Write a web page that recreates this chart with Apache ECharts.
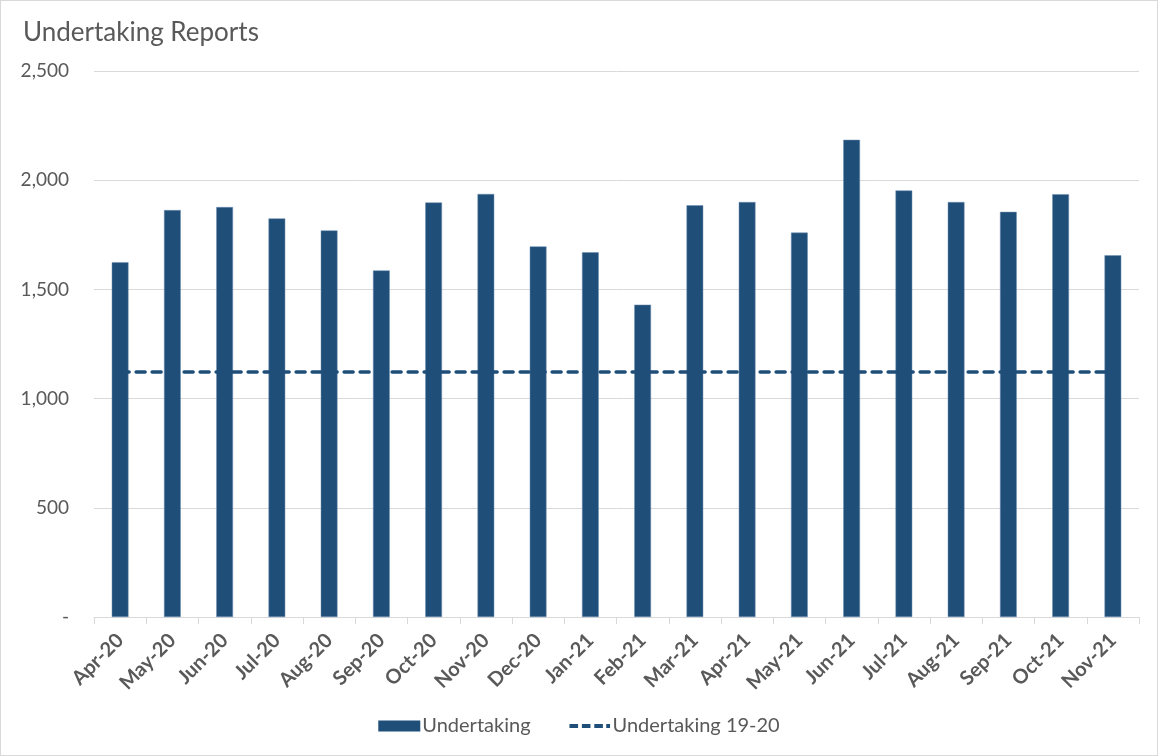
<!DOCTYPE html>
<html>
<head>
<meta charset="utf-8">
<title>Undertaking Reports</title>
<script src="https://cdn.jsdelivr.net/npm/echarts@6/dist/echarts.min.js"></script>
<style>
  html, body { margin: 0; padding: 0; background: #fff; }
  #chart { width: 1156px; height: 754px; border: 1px solid #d9d9d9; }
</style>
</head>
<body>
<div id="chart"></div>
<script>
// Monthly undertaking report counts
const months = ['Apr-20', 'May-20', 'Jun-20', 'Jul-20', 'Aug-20', 'Sep-20', 'Oct-20', 'Nov-20', 'Dec-20', 'Jan-21',
                'Feb-21', 'Mar-21', 'Apr-21', 'May-21', 'Jun-21', 'Jul-21', 'Aug-21', 'Sep-21', 'Oct-21', 'Nov-21'];
const undertaking = [1624, 1863, 1877, 1825, 1770, 1587, 1898, 1937, 1697, 1670,
                     1430, 1885, 1900, 1760, 2185, 1953, 1900, 1855, 1936, 1656];
// 2019-20 monthly average used as a reference line
const baseline1920 = 1122;
const baselineSeries = months.map(() => baseline1920);

const yTicks = { min: 0, max: 2500, interval: 500 };

const textColor = '#595959';
const barColor = '#1f4e79';
const font = 'Lato, "Open Sans", sans-serif';

// Dashed-line legend icon: three dashes and a dot, centred in a 44x11 box
const dashedIcon = 'path://M0,0L0.01,0Z M44,11L43.99,11Z ' +
  'M1,3.5h9v4h-9z M14,3.5h9v4h-9z M27,3.5h9v4h-9z M39.5,3.5h4v4h-4z';

const chart = echarts.init(document.getElementById('chart'));
chart.setOption({
  backgroundColor: '#ffffff',
  animation: false,
  textStyle: { fontFamily: font, color: textColor },
  title: {
    text: 'Undertaking Reports',
    left: 17,
    top: 14,
    textStyle: { fontFamily: font, fontSize: 26, fontWeight: 'normal', color: textColor }
  },
  legend: {
    bottom: 14,
    left: 'center',
    itemGap: 38,
    itemWidth: 42,
    itemHeight: 11,
    textStyle: { fontFamily: font, fontSize: 20, color: textColor, padding: [0, 0, 0, -3] },
    data: [
      { name: 'Undertaking', icon: 'rect', itemStyle: { borderWidth: 0 } },
      { name: 'Undertaking 19-20', icon: dashedIcon, itemStyle: { color: barColor, borderWidth: 0 } }
    ]
  },
  grid: { left: 93, right: 18, top: 70, bottom: 138, containLabel: false },
  xAxis: {
    type: 'category',
    data: months,
    boundaryGap: true,
    axisLine: { lineStyle: { color: '#d9d9d9', width: 1 } },
    axisTick: { show: true, length: 7, alignWithLabel: false, lineStyle: { color: '#d9d9d9' } },
    axisLabel: {
      rotate: 45,
      interval: 0,
      margin: 20,
      fontFamily: font,
      fontSize: 20,
      fontWeight: 'bold',
      color: textColor
    }
  },
  yAxis: {
    type: 'value',
    min: yTicks.min,
    max: yTicks.max,
    interval: yTicks.interval,
    axisLine: { show: false },
    axisTick: { show: false },
    splitLine: { lineStyle: { color: '#d9d9d9', width: 1 } },
    axisLabel: {
      margin: 25,
      fontFamily: font,
      fontSize: 19,
      color: textColor,
      formatter: v => v === 0 ? '-' : v.toLocaleString('en-US')
    }
  },
  series: [
    {
      name: 'Undertaking',
      type: 'bar',
      data: undertaking,
      barWidth: '32%',
      itemStyle: { color: barColor, borderColor: '#6d8fb0', borderWidth: 0.5 }
    },
    {
      name: 'Undertaking 19-20',
      type: 'line',
      data: baselineSeries,
      symbol: 'none',
      z: 5,
      itemStyle: { color: barColor },
      lineStyle: { color: barColor, width: 3.5, type: [9, 7], cap: 'round' }
    }
  ]
});
</script>
</body>
</html>
